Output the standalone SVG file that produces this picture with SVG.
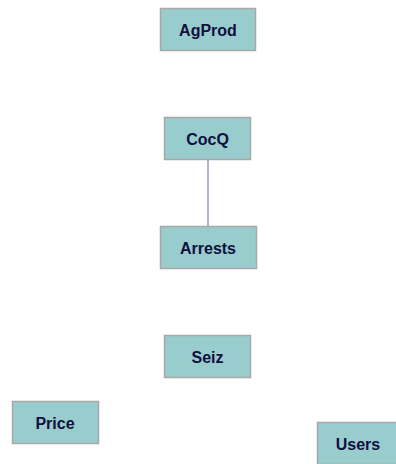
<svg xmlns="http://www.w3.org/2000/svg" width="396" height="464" viewBox="0 0 396 464">
<style>
.box{fill:#99cccc;stroke:#a8a8a8;stroke-width:1.5}
.lbl{font-family:"Liberation Sans",Arial,sans-serif;font-weight:bold;font-size:16px;fill:#101040;text-anchor:middle;dominant-baseline:central}
.edge{stroke:#8080b0;stroke-width:1.2;fill:none}
</style>
<rect width="396" height="464" fill="#ffffff"/>
<g id="connectors">
<line class="edge" x1="208" y1="159" x2="208" y2="226"/>
</g>
<g id="AgProd"><rect class="box" x="160.5" y="8.5" width="95" height="42"/><text class="lbl" x="208" y="30">AgProd</text></g>
<g id="CocQ"><rect class="box" x="164.5" y="117.5" width="86" height="42"/><text class="lbl" x="207.5" y="139">CocQ</text></g>
<g id="Arrests"><rect class="box" x="160.5" y="226.5" width="96" height="42"/><text class="lbl" x="208" y="248">Arrests</text></g>
<g id="Seiz"><rect class="box" x="164.5" y="335.5" width="86" height="42"/><text class="lbl" x="207.5" y="357">Seiz</text></g>
<g id="Price"><rect class="box" x="12.5" y="401.5" width="86" height="42"/><text class="lbl" x="55" y="423">Price</text></g>
<g id="Users"><rect class="box" x="317.5" y="422.5" width="86" height="42"/><text class="lbl" x="358" y="444">Users</text></g>
</svg>
